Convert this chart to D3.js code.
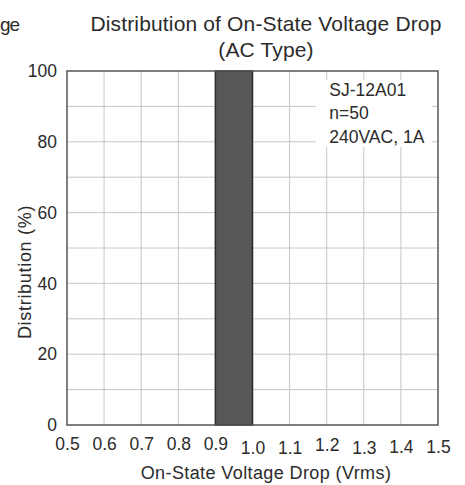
<!DOCTYPE html>
<html>
<head>
<meta charset="utf-8">
<script src="https://cdn.jsdelivr.net/npm/d3@7"></script>
<style>
  body { margin: 0; background: #fff; }
  svg { font-family: "Liberation Sans", Arial, sans-serif; }
</style>
</head>
<body>
<div id="chart"></div>
<script>
// Histogram bins (V) and share of samples (%)
const binStarts = [0.9];
const binEnds = [1.0];
const binValues = [100];

const xTicks = [0.5, 0.6, 0.7, 0.8, 0.9, 1.0, 1.1, 1.2, 1.3, 1.4, 1.5];
const yTicks = [0, 20, 40, 60, 80, 100];
const yGrid = [10, 20, 30, 40, 50, 60, 70, 80, 90];
const noteLines = ['SJ-12A01', 'n=50', '240VAC, 1A'];

const W = 465, H = 485;
const margin = { top: 71, right: 27, bottom: 60, left: 67 };

const svg = d3.select('#chart').append('svg')
  .attr('width', W)
  .attr('height', H);

const x = d3.scaleLinear().domain([0.5, 1.5]).range([margin.left, W - margin.right]);
const y = d3.scaleLinear().domain([0, 100]).range([H - margin.bottom, margin.top]);

const textColor = '#2b2b2b';
const FONT = '"Liberation Sans", Arial, sans-serif';

// grid
svg.append('g').selectAll('line')
  .data(xTicks.slice(1, -1))
  .join('line')
  .attr('x1', d => x(d)).attr('x2', d => x(d))
  .attr('y1', y(0)).attr('y2', y(100))
  .attr('stroke', '#c6c6c6').attr('stroke-width', 1);

svg.append('g').selectAll('line')
  .data(yGrid)
  .join('line')
  .attr('x1', x(0.5)).attr('x2', x(1.5))
  .attr('y1', d => y(d)).attr('y2', d => y(d))
  .attr('stroke', '#c6c6c6').attr('stroke-width', 1);

// bars
svg.append('g').selectAll('rect')
  .data(binValues)
  .join('rect')
  .attr('x', (d, i) => x(binStarts[i]))
  .attr('width', (d, i) => x(binEnds[i]) - x(binStarts[i]))
  .attr('y', d => y(d))
  .attr('height', d => y(0) - y(d))
  .attr('fill', '#575757')
  .attr('stroke', '#2a2a2a')
  .attr('stroke-width', 1.5);

// note box (white patch over the grid)
const note = svg.append('g');
note.append('rect')
  .attr('x', x(1.171)).attr('y', y(97.5))
  .attr('width', x(1.484) - x(1.171))
  .attr('height', y(78.5) - y(97.5))
  .attr('fill', '#fff');
note.selectAll('text')
  .data(noteLines)
  .join('text')
  .attr('x', x(1.207))
  .attr('y', (d, i) => y(93) + i * 23.5)
  .attr('fill', textColor)
  .attr('font-size', 17.5)
  .text(d => d);

// frame
svg.append('rect')
  .attr('x', x(0.5)).attr('y', y(100))
  .attr('width', x(1.5) - x(0.5))
  .attr('height', y(0) - y(100))
  .attr('fill', 'none')
  .attr('stroke', '#555')
  .attr('stroke-width', 1.5);

// axes
// the scanned tick labels sit a little unevenly
const tickNudge = { 1.0: 4, 1.1: 4, 1.2: 1, 1.3: 4, 1.4: 3, 1.5: 3 };
const xAxis = svg.append('g')
  .attr('transform', 'translate(0,' + y(0) + ')')
  .call(d3.axisBottom(x).tickValues(xTicks).tickFormat(d3.format('.1f')).tickSize(0).tickPadding(12.5));
xAxis.select('.domain').remove();
xAxis.selectAll('text')
  .attr('fill', textColor)
  .attr('font-size', 17.5)
  .attr('font-family', FONT)
  .attr('transform', d => 'translate(0,' + (tickNudge[d] || 0) + ')');

const yAxis = svg.append('g')
  .attr('transform', 'translate(' + x(0.5) + ',0)')
  .call(d3.axisLeft(y).tickValues(yTicks).tickSize(0).tickPadding(10));
yAxis.select('.domain').remove();
yAxis.selectAll('text')
  .attr('fill', textColor)
  .attr('font-size', 17.5)
  .attr('font-family', FONT);

// titles
svg.append('text')
  .attr('x', 266).attr('y', 31)
  .attr('text-anchor', 'middle')
  .attr('fill', textColor)
  .attr('font-size', 21)
  .attr('letter-spacing', 0.15)
  .text('Distribution of On-State Voltage Drop');

svg.append('text')
  .attr('x', 266).attr('y', 57)
  .attr('text-anchor', 'middle')
  .attr('fill', textColor)
  .attr('font-size', 21)
  .attr('letter-spacing', 0.15)
  .text('(AC Type)');

// fragment of the neighbouring chart's title
svg.append('text')
  .attr('x', 0).attr('y', 31)
  .attr('fill', textColor)
  .attr('font-size', 19)
  .attr('letter-spacing', -1)
  .text('ge');

svg.append('text')
  .attr('transform', 'translate(31,272) rotate(-90)')
  .attr('text-anchor', 'middle')
  .attr('fill', textColor)
  .attr('font-size', 18)
  .attr('letter-spacing', 0.7)
  .text('Distribution (%)');

svg.append('text')
  .attr('x', 266).attr('y', 479)
  .attr('text-anchor', 'middle')
  .attr('fill', textColor)
  .attr('font-size', 18)
  .attr('letter-spacing', 0.4)
  .text('On-State Voltage Drop (Vrms)');
</script>
</body>
</html>
